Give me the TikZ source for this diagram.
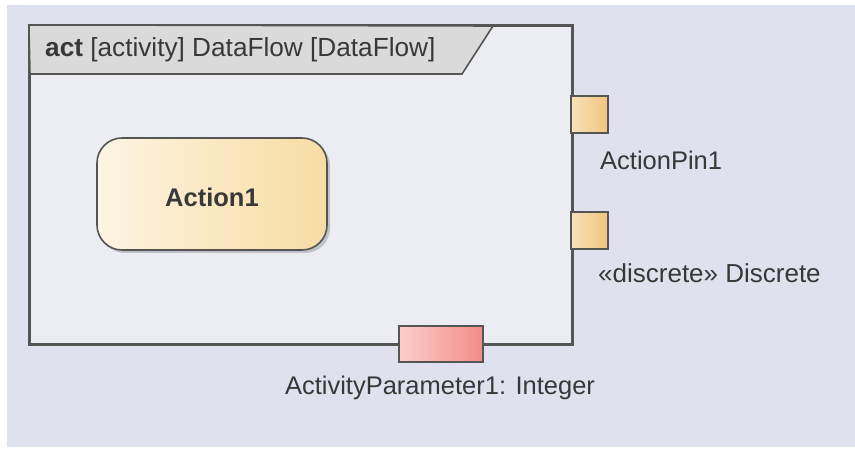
\documentclass[tikz,border=0pt]{standalone}
\usepackage{fontspec}
\setmainfont{Liberation Sans}
\usetikzlibrary{shadows}
\definecolor{bgcol}{HTML}{DFE2EE}
\definecolor{framefill}{HTML}{ECEDF3}
\definecolor{headfill}{HTML}{DADADA}
\definecolor{linecol}{HTML}{555555}
\definecolor{txtcol}{HTML}{383838}
\definecolor{actL}{HTML}{FDF4E3}
\definecolor{actR}{HTML}{F8DCA2}
\definecolor{pinL}{HTML}{F8E2BA}
\definecolor{pinR}{HTML}{F0C47E}
\definecolor{parL}{HTML}{FCCECC}
\definecolor{parR}{HTML}{F28C88}
\tikzset{
  lbl/.style={text=txtcol, font=\fontsize{25.5}{30}\selectfont, inner sep=0pt},
  pinbox/.style={draw=linecol, line width=1.6pt, left color=pinL, right color=pinR, minimum width=37pt, minimum height=37pt, inner sep=0pt},
  parbox/.style={draw=linecol, line width=1.6pt, left color=parL, right color=parR, minimum width=84pt, minimum height=36pt, inner sep=0pt},
  actbox/.style={draw=linecol, line width=1.6pt, left color=actL, right color=actR, rounded corners=25pt, minimum width=230pt, minimum height=112pt, inner sep=0pt,
     drop shadow={shadow xshift=3pt, shadow yshift=-3pt, fill=black, opacity=0.18}},
  framebox/.style={draw=linecol, line width=2.2pt, fill=framefill, minimum width=542pt, minimum height=318pt, inner sep=0pt,
     drop shadow={shadow xshift=2pt, shadow yshift=-2pt, fill=black, opacity=0.12}}
}
\begin{document}
\begin{tikzpicture}[x=1pt,y=-1pt]
\useasboundingbox (0,0) rectangle (855,449);
\fill[white] (0,0) rectangle (855,449);
\fill[bgcol] (7,5) rectangle (855,447);
% frame
\node[framebox] (frame) at (301,185) {};
\filldraw[fill=headfill, draw=linecol, line width=1.6pt] (frame.north west) -- (493,26) -- (462,74) -- (30,74) -- cycle;
\draw[linecol, line width=2.2pt] (frame.north west) rectangle (frame.south east);
\node[lbl, anchor=west, font=\fontsize{26.2}{30}\selectfont] (title) at (45,50) {\textbf{act} [activity] DataFlow [DataFlow]};
% action
\node[actbox] (action) at (212,194) {};
\node[lbl, font=\fontsize{25.5}{30}\selectfont\bfseries] (actlbl) at ([yshift=-3pt]action.center) {Action1};
% pins
\node[pinbox] (pin1) at (589.5,114.5) {};
\node[lbl, anchor=west] (pin1lbl) at (600,160) {ActionPin1};
\node[pinbox] (pin2) at (589.5,230.5) {};
\node[lbl, anchor=west, font=\fontsize{26}{30}\selectfont] (pin2lbl) at (598,273) {«discrete» Discrete};
% parameter
\node[parbox] (param) at (441,344) {};
\node[lbl] (paramlbl) at (440,388) {ActivityParameter1: Integer};
\end{tikzpicture}
\end{document}
